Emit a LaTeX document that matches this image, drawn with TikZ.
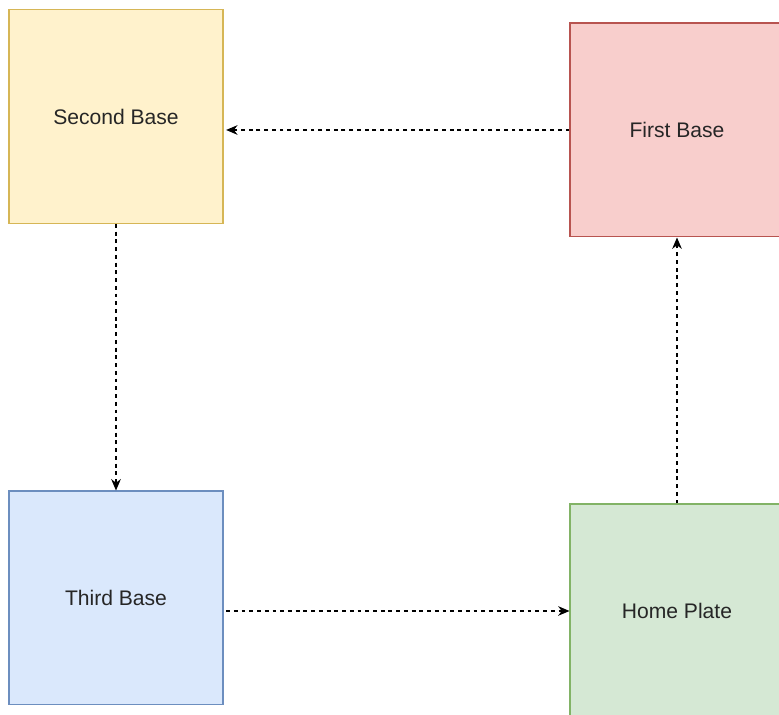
\documentclass[tikz,border=0pt]{standalone}
\usepackage{xcolor}
\usepackage{fontspec}
\setmainfont{Liberation Sans}
\usetikzlibrary{arrows.meta}

\definecolor{yellowfill}{HTML}{FFF2CC}
\definecolor{yellowline}{HTML}{D6B656}
\definecolor{redfill}{HTML}{F8CECC}
\definecolor{redline}{HTML}{B85450}
\definecolor{bluefill}{HTML}{DAE8FC}
\definecolor{blueline}{HTML}{6C8EBF}
\definecolor{greenfill}{HTML}{D5E8D4}
\definecolor{greenline}{HTML}{82B366}

\begin{document}
\begin{tikzpicture}[x=0.02cm, y=-0.02cm,
      base/.style={rectangle, draw, line width=0.6pt, minimum width=4.28cm,
        minimum height=4.28cm, inner sep=0pt, text=black!85,
        font=\fontsize{12}{14}\selectfont},
      run/.style={draw=black, line width=0.6pt, dash pattern=on 2.2pt off 2.2pt,
        -{Stealth[length=6.5pt, width=5.5pt]}}
      ]
      \useasboundingbox (0,0) rectangle (779,715);
      \clip (0,0) rectangle (779,715);
      \node[base, fill=yellowfill, draw=yellowline] (second) at (116,116.5) {Second Base};
      \node[base, fill=redfill, draw=redline] (first) at (677,130) {First Base};
      \node[base, fill=bluefill, draw=blueline] (third) at (116,598) {Third Base};
      \node[base, fill=greenfill, draw=greenline] (home) at (677,611) {Home Plate};
      % base paths
      \draw[run, shorten >=1.5pt] (first.west) -- (second.east |- first.west);
      \draw[run] (second.south) -- (third.north);
      \draw[run, shorten <=1.5pt] (third.east |- home.west) -- (home.west);
      \draw[run] (home.north) -- (first.south);
    \end{tikzpicture}
\end{document}
